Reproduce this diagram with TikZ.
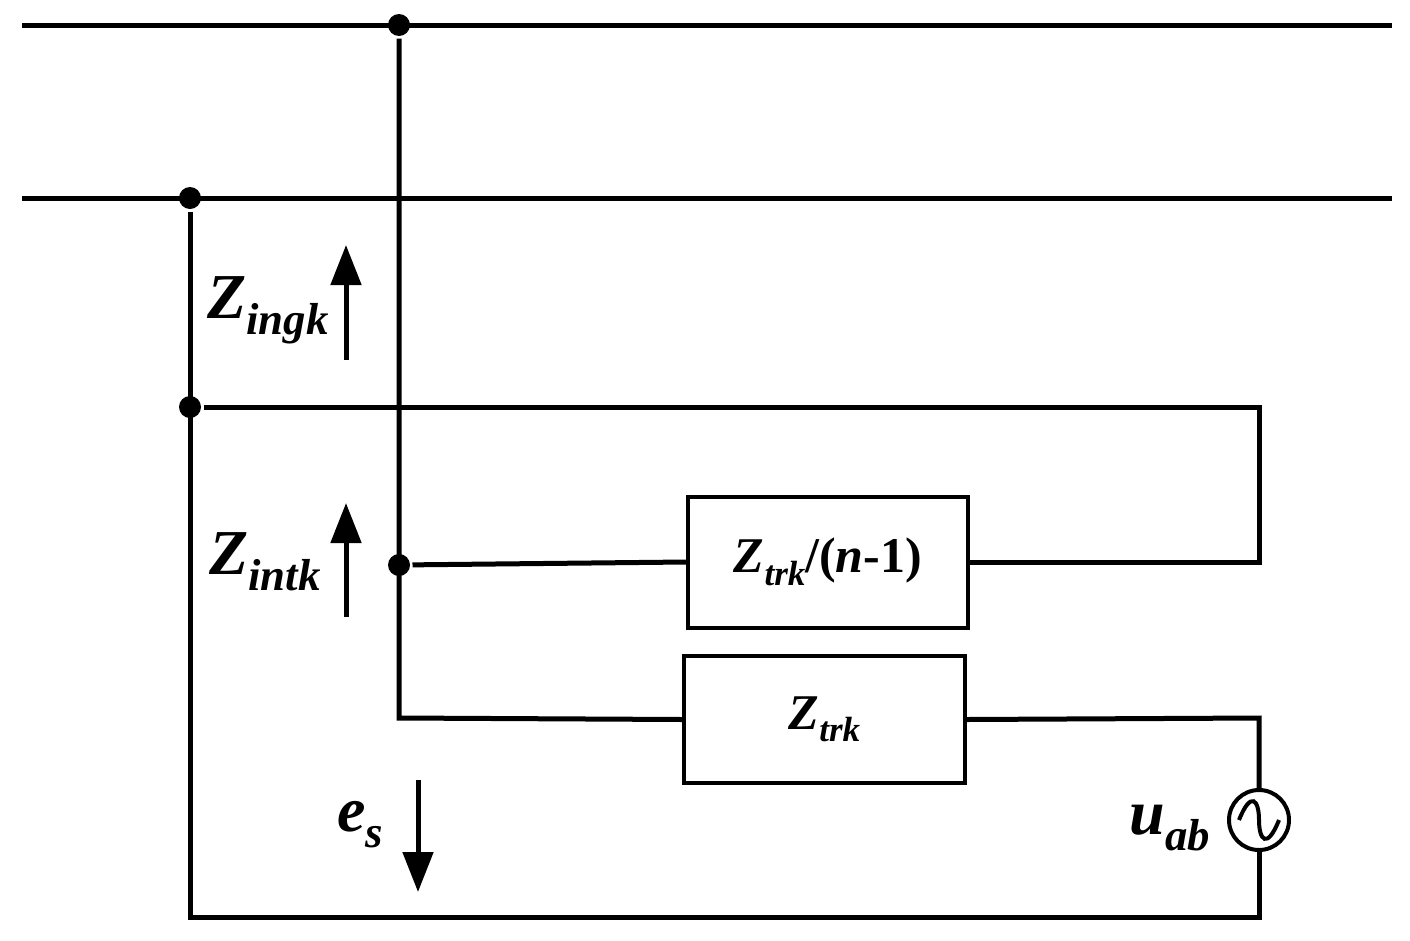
\documentclass[tikz,border=0pt]{standalone}
\usepackage{fontspec}
\setmainfont{Liberation Serif}
\usetikzlibrary{arrows.meta}
\newcommand{\subtx}[1]{\raisebox{-0.25em}{\scalebox{0.7}{#1}}}
\begin{document}
\begin{tikzpicture}[x=1pt,y=-1pt,line width=5pt,
  dot/.style={circle,fill,inner sep=0pt,minimum size=22pt},
  box/.style={draw,line width=4pt,inner sep=0pt},
  lbl/.style={font=\fontsize{64}{70}\selectfont\bfseries\itshape,inner sep=0pt},
  blbl/.style={font=\fontsize{50}{56}\selectfont\bfseries,inner sep=0pt},
  flow/.style={-{Triangle[length=40pt,width=30pt]}}]
\useasboundingbox (0,0) rectangle (1410,940);
% buses
\coordinate (b1l) at (22,25); \coordinate (b1r) at (1392,25);
\coordinate (b2l) at (22,198); \coordinate (b2r) at (1392,198);
\draw (b1l) -- (b1r);
\draw (b2l) -- (b2r);
\node[dot] (d1) at (399,25) {};
\node[dot] (d2) at (190,198) {};
\node[dot] (d3) at (190,407) {};
\node[dot] (d4) at (399,565) {};
% boxes
\node[box,minimum width=280pt,minimum height=131pt] (ztn) at (828,562) {};
\node[blbl] at (ztn) {\textit{Z\subtx{trk}}/(\textit{n}-1)};
\node[box,minimum width=281pt,minimum height=127pt] (zt) at (824.5,719.5) {};
\node[blbl] at (zt) {\textit{Z\subtx{trk}}};
% source
\node[draw,circle,line width=4pt,minimum size=60pt,inner sep=0pt] (src) at (1259,820) {};
\draw[line width=4pt] ([xshift=-20pt]src.center) .. controls (1251,790) and (1259,800) .. (src.center)
  .. controls (1259,840) and (1267,850) .. ([xshift=20pt]src.center);
% wiring
\draw (d2) -- (190,917) -- (1259,917) -- (src.south);
\draw (d1) -- (399,718) -- (zt.west);
\draw (zt.east) -- (1259,718) -- (src.north);
\draw (d4) -- (ztn.west);
\draw (d3) -- (1259,407) -- (1259,562) -- (ztn.east);
% arrows and labels
\draw[flow] (346,360) -- (346,245);
\draw[flow] (346,617) -- (346,503);
\draw[flow] (418,780) -- (418,892);
\node[lbl] at (268,310) {Z\subtx{ingk}};
\node[lbl] at (265,562) {Z\subtx{intk}};
\node[lbl] at (360,825) {e\subtx{s}};
\node[lbl] at (1170,828) {u\subtx{ab}};
\end{tikzpicture}
\end{document}
